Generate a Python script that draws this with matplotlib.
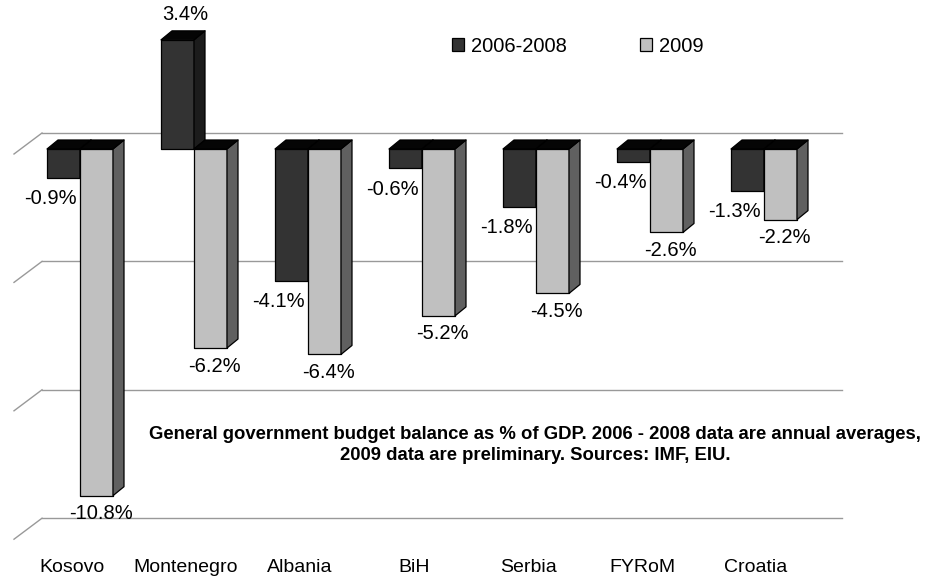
import matplotlib.pyplot as plt
from matplotlib.patches import Polygon, Patch

plt.rcParams['font.family'] = ['Liberation Sans', 'DejaVu Sans']

# data
countries = ["Kosovo", "Montenegro", "Albania", "BiH", "Serbia", "FYRoM", "Croatia"]
avg_0608 = [-0.9, 3.4, -4.1, -0.6, -1.8, -0.4, -1.3]
val_2009 = [-10.8, -6.2, -6.4, -5.2, -4.5, -2.6, -2.2]
series_names = ["2006-2008", "2009"]
grid_vals = [0, -4, -8, -12]
note = ("General government budget balance as % of GDP. 2006 - 2008 data are annual averages,\n"
        "2009 data are preliminary. Sources: IMF, EIU.")

# pixel scale of the original: 114 px per category, 32.1 px per percentage point
PX_X, PX_Y = 114.0, 32.1
W, H = 930, 581
X0, Y0 = 80, 149   # pixel of (category 0, value 0)

bar_w = 33 / PX_X
dx, dy = 11 / PX_X, 9 / PX_Y

front_cols = ["#333333", "#c0c0c0"]
side_cols = ["#1c1c1c", "#606060"]
top_col = "#050505"

fig = plt.figure(figsize=(W / 100, H / 100), dpi=100)
ax = fig.add_axes([0, 0, 1, 1])
ax.set_xlim(-X0 / PX_X, (W - X0) / PX_X)
ax.set_ylim((Y0 - H) / PX_Y, Y0 / PX_Y)
ax.axis("off")

# back wall gridlines + left wall diagonals
back_dx0, back_dx1 = (42 - X0) / PX_X, (842 - X0) / PX_X
back_dy = 16 / PX_Y
for g in grid_vals:
    ax.plot([back_dx0, back_dx1], [g + back_dy, g + back_dy], color="#999999", lw=1, zorder=1)
    ax.plot([(14 - X0) / PX_X, back_dx0], [g + back_dy - 21 / PX_Y, g + back_dy],
            color="#999999", lw=1, zorder=1)


def draw_bar(x0, v, k):
    x1 = x0 + bar_w
    top, bot = max(v, 0), min(v, 0)
    kw = dict(edgecolor="black", lw=0.9, joinstyle="round")
    ax.add_patch(Polygon([(x0, bot), (x1, bot), (x1, top), (x0, top)],
                         facecolor=front_cols[k], zorder=2, **kw))
    ax.add_patch(Polygon([(x1, bot), (x1 + dx, bot + dy), (x1 + dx, top + dy), (x1, top)],
                         facecolor=side_cols[k], zorder=2, **kw))
    ax.add_patch(Polygon([(x0, top), (x1, top), (x1 + dx, top + dy), (x0 + dx, top + dy)],
                         facecolor=top_col, zorder=2, **kw))


for i in range(len(countries)):
    draw_bar(i - bar_w, avg_0608[i], 0)
    draw_bar(i, val_2009[i], 1)

# data labels
lab_fs = 14.5
for i in range(len(countries)):
    v = avg_0608[i]
    if v >= 0:
        off = (5.4, 11.5)
        va = "bottom"
    else:
        off = (-9.5, -15)
        va = "center"
    ax.annotate(f"{v:.1f}%", (i - bar_w / 2, v), textcoords="offset points", xytext=off,
                ha="center", va=va, fontsize=lab_fs, zorder=3)
    v = val_2009[i]
    ax.annotate(f"{v:.1f}%", (i + bar_w / 2, v), textcoords="offset points", xytext=(2.9, -13),
                ha="center", va="center", fontsize=lab_fs, zorder=3)

# category labels
for i, c in enumerate(countries):
    ax.text(i - 8 / PX_X, (Y0 - 567) / PX_Y, c, ha="center", va="center", fontsize=14)

# legend
handles = [Patch(facecolor=front_cols[k], edgecolor="black", lw=0.9, label=series_names[k])
           for k in range(2)]
ax.legend(handles=handles, ncol=2, frameon=False, fontsize=14.5,
          loc="center left", bbox_to_anchor=(452 / W, 1 - 46 / H),
          handlelength=0.6, handleheight=0.6, handletextpad=0.35,
          columnspacing=3.6, borderpad=0, borderaxespad=0)

# note
ax.text(535 / W, 1 - 445 / H, note, transform=ax.transAxes, ha="center", va="center",
        fontsize=13.3, fontweight="bold", linespacing=1.38)

fig.savefig("out.png", dpi=100)
